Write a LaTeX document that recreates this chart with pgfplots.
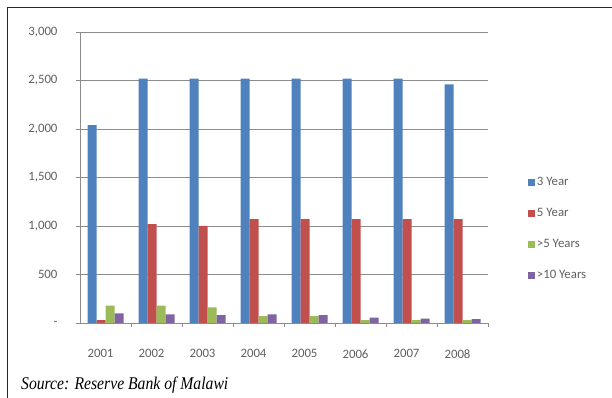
\documentclass[border=0pt]{standalone}
\usepackage{pgfplots}
\pgfplotsset{compat=1.18}
\usepackage{fontspec}
\setmainfont{Carlito}
\newfontfamily\srcfont{Liberation Serif}

\definecolor{xlBlue}{HTML}{4F81BD}
\definecolor{xlRed}{HTML}{C0504D}
\definecolor{xlGreen}{HTML}{9BBB59}
\definecolor{xlPurple}{HTML}{8064A2}
\definecolor{gridgray}{HTML}{8C8C8C}
\definecolor{labelgray}{HTML}{5F5F5F}

\begin{document}
\begin{tikzpicture}[x=1pt,y=1pt]
\useasboundingbox (0,0) rectangle (612,398);
% outer frame (top and left edges)
\draw[line width=1.6pt, black!85] (6.7,390.5) -- (612,390.5);
\draw[line width=1.6pt, black!85] (7.5,391.3) -- (7.5,0);

\begin{axis}[
  at={(80pt,75pt)}, anchor=south west,
  scale only axis, width=408pt, height=291pt,
  ybar=0pt, bar width=9pt,
  xmin=0.5, xmax=8.5, ymin=0, ymax=3000,
  xtick={1,...,8},
  xticklabels={2001,2002,2003,2004,2005,2006,2007,2008},
  minor xtick={1.5,2.5,...,8.5},
  ytick={0,500,...,3000},
  yticklabels={-,500,{1,000},{1,500},{2,000},{2,500},{3,000}},
  axis x line*=bottom, axis y line*=left,
  axis line style={gridgray, line width=0.9pt},
  ymajorgrids, major grid style={gridgray, line width=0.9pt},
  tick style={gridgray, line width=0.7pt},
  ytick align=outside, xtick align=outside,
  major x tick style={draw=none},
  major tick length=4pt, minor tick length=4pt,
  tick label style={font=\fontsize{12.8}{14}\selectfont, text=labelgray},
  yticklabel style={xshift=-15pt},
  xticklabel style={xshift=-5pt, yshift=-19pt},
  legend style={at={(1.09,0.515)}, anchor=north west, draw=none,
    fill=none, font=\fontsize{12.8}{14}\selectfont\color{labelgray},
    row sep=17.2pt, cells={anchor=west}},
  legend image code/.code={\fill[#1] (0pt,-3.5pt) rectangle (7pt,3.5pt);},
  clip=false,
]
\addplot[fill=xlBlue, draw=none] coordinates
  {(1,2040) (2,2520) (3,2520) (4,2520) (5,2520) (6,2520) (7,2520) (8,2460)};
\addplot[fill=xlRed, draw=none] coordinates
  {(1,30) (2,1020) (3,1000) (4,1070) (5,1070) (6,1070) (7,1070) (8,1070)};
\addplot[fill=xlGreen, draw=none] coordinates
  {(1,180) (2,180) (3,160) (4,70) (5,70) (6,30) (7,30) (8,30)};
\addplot[fill=xlPurple, draw=none] coordinates
  {(1,100) (2,90) (3,80) (4,90) (5,80) (6,55) (7,45) (8,40)};
\legend{3 Year, 5 Year, >5 Years, >10 Years}
\end{axis}

\node[anchor=base west, inner sep=0pt] at (21,8)
  {\srcfont\itshape\fontsize{16}{18}\selectfont\scalebox{0.98}[1.12]{Source: Reserve Bank of Malawi}};
\end{tikzpicture}
\end{document}
